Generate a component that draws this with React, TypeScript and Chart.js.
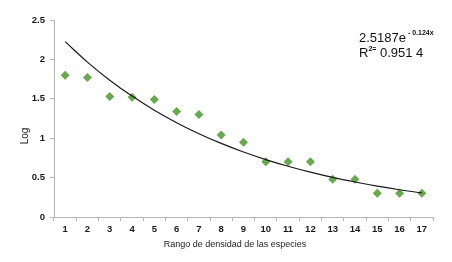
import React, { useEffect, useRef } from "react";
import { Chart, registerables } from "chart.js";

Chart.register(...registerables);

const categories = ["1", "2", "3", "4", "5", "6", "7", "8", "9", "10", "11", "12", "13", "14", "15", "16", "17"];
const logValues = [1.8, 1.77, 1.53, 1.52, 1.49, 1.34, 1.3, 1.04, 0.95, 0.7, 0.7, 0.7, 0.48, 0.48, 0.3, 0.3, 0.3];
const trendValues = [2.225, 1.966, 1.736, 1.534, 1.355, 1.197, 1.057, 0.934, 0.825, 0.729, 0.644, 0.569, 0.502, 0.444, 0.392, 0.346, 0.306];
const yTicks = [0, 0.5, 1, 1.5, 2, 2.5];
const xTitle = "Rango de densidad de las especies";
const yTitle = "Log";
const eqMain = "2.5187e";
const eqExp = " - 0.124x";
const r2Main = "R";
const r2Sup = "2=";
const r2Value = " 0.951 4";

const FONT = "'Liberation Sans', Arial, sans-serif";

const textPlugin = {
  id: "textPlugin",
  afterDraw(chart: any) {
    const ctx = chart.ctx;
    ctx.save();
    ctx.fillStyle = "#222";
    // x title
    ctx.font = `9px ${FONT}`;
    ctx.textAlign = "center";
    ctx.textBaseline = "middle";
    ctx.fillText(xTitle, 235, 245);
    // y title
    ctx.save();
    ctx.translate(25, 136);
    ctx.rotate(-Math.PI / 2);
    ctx.font = `10px ${FONT}`;
    ctx.fillText(yTitle, 0, 0);
    ctx.restore();
    // equation
    ctx.fillStyle = "#111";
    ctx.textAlign = "left";
    ctx.textBaseline = "alphabetic";
    let x = 359;
    ctx.font = `13px ${FONT}`;
    ctx.fillText(eqMain, x, 42);
    x += ctx.measureText(eqMain).width;
    ctx.font = `bold 7px ${FONT}`;
    ctx.fillText(eqExp, x, 35);
    x = 359;
    ctx.font = `13px ${FONT}`;
    ctx.fillText(r2Main, x, 57);
    x += ctx.measureText(r2Main).width;
    ctx.font = `bold 7px ${FONT}`;
    ctx.fillText(r2Sup, x, 51);
    x += ctx.measureText(r2Sup).width;
    ctx.font = `13px ${FONT}`;
    ctx.fillText(r2Value, x, 57);
    ctx.restore();
  },
};

export default function App() {
  const ref = useRef<HTMLCanvasElement | null>(null);
  useEffect(() => {
    if (!ref.current) return;
    const chart = new Chart(ref.current, {
      type: "line",
      data: {
        labels: categories,
        datasets: [
          {
            label: "trend",
            data: trendValues,
            borderColor: "#1a1a1a",
            borderWidth: 1.2,
            pointRadius: 0,
            tension: 0.4,
            fill: false,
          },
          {
            label: "Log",
            data: logValues,
            showLine: false,
            pointStyle: "rectRot",
            pointRadius: 4.5,
            pointBackgroundColor: "#6aa84f",
            pointBorderColor: "#6aa84f",
            pointBorderWidth: 0,
          },
        ],
      },
      options: {
        animation: false,
        responsive: true,
        maintainAspectRatio: false,
        layout: { padding: { top: 20, right: 19, bottom: 0, left: 0 } },
        plugins: { legend: { display: false }, tooltip: { enabled: false } },
        scales: {
          x: {
            offset: true,
            grid: { offset: true, drawOnChartArea: false, tickLength: 4, color: "#b5b5b5" },
            border: { color: "#b5b5b5" },
            ticks: { color: "#1a1a1a", font: { family: FONT, size: 9.5, weight: "bold" }, padding: 3, maxRotation: 0 },
            afterFit: (s: any) => { s.height = 45; },
          },
          y: {
            min: 0,
            max: 2.5,
            afterBuildTicks: (s: any) => { s.ticks = yTicks.map((v) => ({ value: v })); },
            grid: { drawOnChartArea: false, tickLength: 4, color: "#b5b5b5" },
            border: { color: "#b5b5b5" },
            ticks: { color: "#1a1a1a", font: { family: FONT, size: 9.5, weight: "bold" }, padding: 5, callback: (v: any) => String(v) },
            afterFit: (s: any) => { s.width = 54; },
          },
        },
      },
      plugins: [textPlugin],
    });
    return () => chart.destroy();
  }, []);
  return (
    <div style={{ position: "absolute", left: 0, top: 0, width: 452, height: 262, background: "#fff" }}>
      <canvas ref={ref} />
    </div>
  );
}
